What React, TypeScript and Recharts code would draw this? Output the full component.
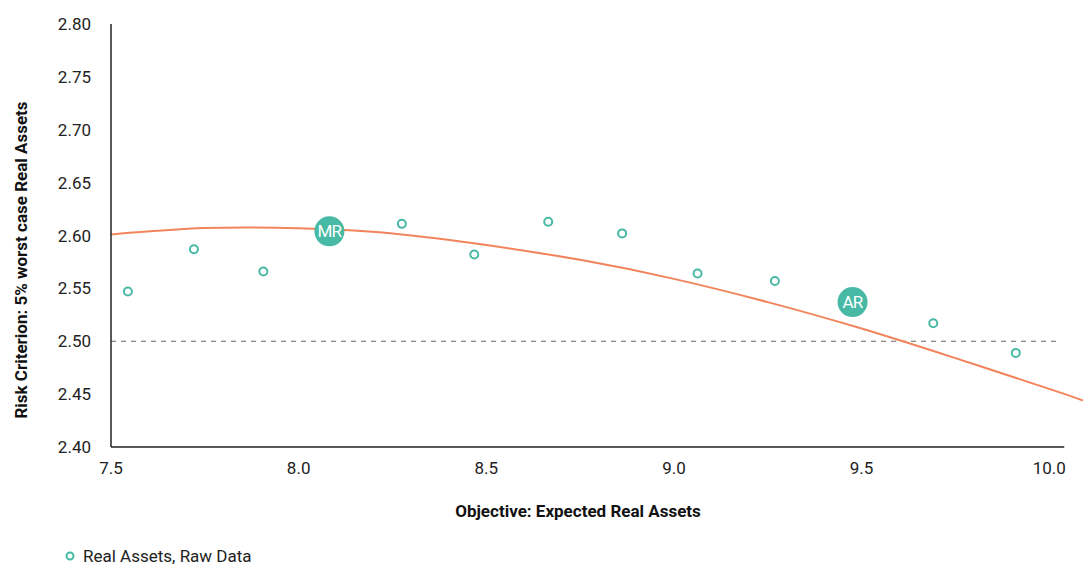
import { ComposedChart, Line, Scatter, XAxis, YAxis, ReferenceLine } from "recharts";

// raw data points (objective, risk criterion)
const rawX = [7.545, 7.721, 7.906, 8.275, 8.468, 8.665, 8.862, 9.063, 9.269, 9.691, 9.911];
const rawY = [2.547, 2.587, 2.566, 2.611, 2.582, 2.613, 2.602, 2.564, 2.557, 2.517, 2.489];

// fitted curve
const fitX = [7.5, 7.75, 8.0, 8.25, 8.5, 8.75, 9.0, 9.25, 9.5, 9.75, 10.0, 10.09];
const fitY = [2.601, 2.607, 2.6068, 2.602, 2.591, 2.577, 2.559, 2.537, 2.512, 2.484, 2.455, 2.444];

// highlighted portfolios
const markLabels = ["MR", "AR"];
const markX = [8.082, 9.476];
const markY = [2.604, 2.537];

const xTicks = [7.5, 8.0, 8.5, 9.0, 9.5, 10.0];
const yTicks = [2.4, 2.45, 2.5, 2.55, 2.6, 2.65, 2.7, 2.75, 2.8];
const threshold = 2.5;

const TEAL = "#48B9A5";
const ORANGE = "#F2845C";
const FONT = "Roboto, 'Liberation Sans', sans-serif";

const rawData = rawX.map((x, i) => ({ x, y: rawY[i] }));
const fitData = fitX.map((x, i) => ({ x, y: fitY[i] }));
const markData = markX.map((x, i) => ({ x, y: markY[i], label: markLabels[i] }));

const RawDot = (props: any) => {
  const { cx, cy } = props;
  return <circle cx={cx} cy={cy} r={4} fill="#fff" stroke={TEAL} strokeWidth={2} />;
};

const MarkDot = (props: any) => {
  const { cx, cy, payload } = props;
  return (
    <g>
      <circle cx={cx} cy={cy} r={15} fill={TEAL} />
      <text x={cx} y={cy} dy={6} textAnchor="middle" fill="#fff" fontSize={17} fontFamily={FONT} letterSpacing={-0.8}>
        {payload.label}
      </text>
    </g>
  );
};

export default function App() {
  return (
    <div style={{ position: "absolute", left: 0, top: 0, width: 1083, height: 570, background: "#fff", fontFamily: FONT }}>
      <ComposedChart width={1083} height={570} margin={{ top: 24, right: 0, bottom: 43, left: 0 }}>
        <XAxis
          type="number"
          dataKey="x"
          domain={[7.5, 10.09]}
          allowDataOverflow
          ticks={xTicks}
          tickFormatter={(v: number) => v.toFixed(1)}
          axisLine={false}
          tickLine={false}
          tickSize={13}
          tickMargin={2}
          height={80}
          tick={{ fill: "#222", fontSize: 17, fontFamily: FONT }}
          label={{
            content: () => (
              <text x={578} y={517} textAnchor="middle" fill="#111" fontSize={17} fontWeight="bold" fontFamily={FONT}>
                Objective: Expected Real Assets
              </text>
            ),
          }}
        />
        <YAxis
          type="number"
          dataKey="y"
          domain={[2.4, 2.8]}
          ticks={yTicks}
          tickFormatter={(v: number) => v.toFixed(2)}
          axisLine={{ stroke: "#222", strokeWidth: 1.5 }}
          tickLine={false}
          tickSize={18}
          tickMargin={2}
          width={111}
          tick={{ fill: "#222", fontSize: 17, fontFamily: FONT }}
          label={{
            content: () => (
              <text transform="translate(27,260) rotate(-90)" textAnchor="middle" fill="#111" fontSize={17} fontWeight="bold" fontFamily={FONT}>
                Risk Criterion: 5% worst case Real Assets
              </text>
            ),
          }}
        />
        <ReferenceLine
          segment={[{ x: 7.5, y: 2.4 }, { x: 10.04, y: 2.4 }]}
          stroke="#222"
          strokeWidth={1.5}
          ifOverflow="visible"
        />
        <ReferenceLine
          segment={[{ x: 7.5, y: threshold }, { x: 10.03, y: threshold }]}
          stroke="#666"
          strokeWidth={1.2}
          strokeDasharray="5 5"
        />
        <Line
          data={fitData}
          dataKey="y"
          type="natural"
          stroke={ORANGE}
          strokeWidth={2}
          dot={false}
          isAnimationActive={false}
        />
        <Scatter data={rawData} dataKey="y" shape={RawDot} isAnimationActive={false} />
        <Scatter data={markData} dataKey="y" shape={MarkDot} isAnimationActive={false} />
      </ComposedChart>
      <div style={{ position: "absolute", left: 64, top: 546, display: "flex", alignItems: "center", fontSize: 17, color: "#222" }}>
        <svg width={12} height={12} style={{ marginRight: 7 }}>
          <circle cx={6} cy={6} r={3.5} fill="#fff" stroke={TEAL} strokeWidth={2} />
        </svg>
        <span>Real Assets, Raw Data</span>
      </div>
    </div>
  );
}
